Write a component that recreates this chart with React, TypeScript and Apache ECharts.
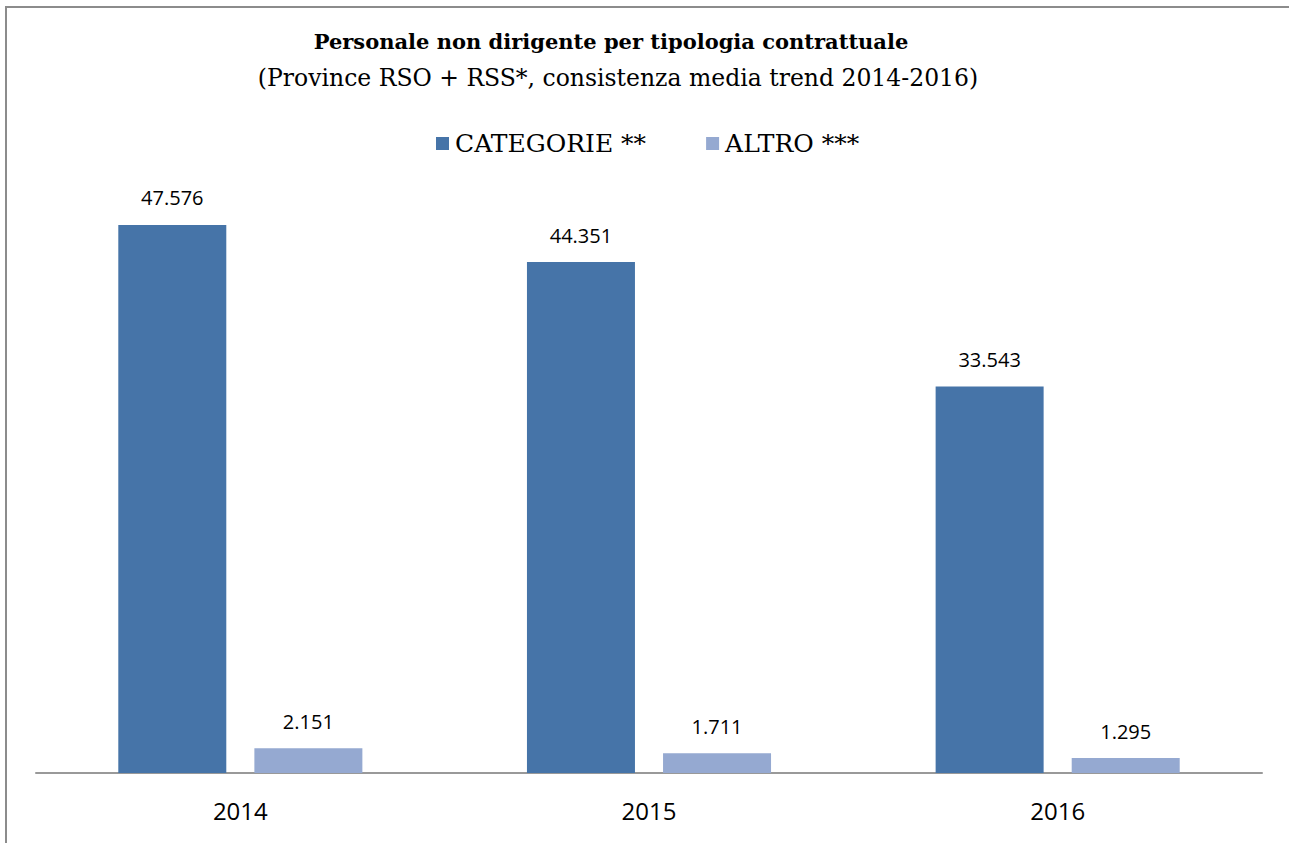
import React, { useEffect, useRef } from "react";
import * as echarts from "echarts";

const years = ["2014", "2015", "2016"];
const categorie = [47576, 44351, 33543];
const altro = [2151, 1711, 1295];
const seriesNames = ["CATEGORIE **", "ALTRO ***"];
const titleText = "Personale non dirigente per tipologia contrattuale";
const subtitleText = "(Province RSO + RSS*, consistenza media trend 2014-2016)";

const fmt = (v: number) => String(v).replace(/\B(?=(\d{3})+(?!\d))/g, ".");

export default function App() {
  const ref = useRef<HTMLDivElement>(null);
  useEffect(() => {
    if (!ref.current) return;
    const chart = echarts.init(ref.current, null, { renderer: "svg" });
    const serif = "'DejaVu Serif', 'Liberation Serif', serif";
    const sans = "'Open Sans', 'Noto Sans', sans-serif";
    const labelCfg = {
      show: true,
      position: "top" as const,
      distance: 17,
      fontFamily: sans,
      fontSize: 20,
      color: "#000",
      formatter: (p: any) => fmt(p.value),
    };
    chart.setOption({
      animation: false,
      backgroundColor: "#fff",
      title: [
        {
          text: titleText,
          left: 606,
          top: 26,
          textAlign: "center",
          textStyle: { fontFamily: serif, fontSize: 21, fontWeight: "bold", color: "#000" },
        },
        {
          text: subtitleText,
          left: 613,
          top: 61,
          textAlign: "center",
          textStyle: { fontFamily: serif, fontSize: 23.5, fontWeight: "normal", color: "#000" },
        },
      ],
      legend: {
        data: seriesNames,
        left: 431,
        top: 126,
        icon: "rect",
        itemWidth: 13,
        itemHeight: 13,
        itemGap: 60,
        textStyle: { fontFamily: serif, fontSize: 25, color: "#000", padding: [0, 0, 0, 1] },
      },
      grid: { left: 36, right: 28, top: 197, bottom: 70, containLabel: false },
      xAxis: {
        type: "category",
        data: years,
        axisLine: { lineStyle: { color: "#999", width: 2 } },
        axisTick: { show: false },
        axisLabel: { fontFamily: sans, fontSize: 24, color: "#000", margin: 25 },
      },
      yAxis: {
        type: "value",
        min: 0,
        max: 50000,
        show: false,
        splitLine: { show: false },
      },
      series: [
        {
          name: seriesNames[0],
          type: "bar",
          data: categorie,
          barWidth: 108,
          barGap: "26%",
          itemStyle: { color: "#4674A8" },
          label: labelCfg,
        },
        {
          name: seriesNames[1],
          type: "bar",
          data: altro,
          barWidth: 108,
          itemStyle: { color: "#95A9D1" },
          label: labelCfg,
        },
      ],
      graphic: [
        {
          type: "line",
          shape: { x1: 5, y1: 7, x2: 1289, y2: 7 },
          style: { stroke: "#8c8c8c", lineWidth: 2 },
          silent: true,
        },
        {
          type: "line",
          shape: { x1: 6, y1: 6, x2: 6, y2: 843 },
          style: { stroke: "#8c8c8c", lineWidth: 2 },
          silent: true,
        },
      ],
    });
    return () => chart.dispose();
  }, []);
  return (
    <div
      ref={ref}
      style={{ position: "fixed", left: 0, top: 0, width: 1290, height: 843 }}
    />
  );
}
